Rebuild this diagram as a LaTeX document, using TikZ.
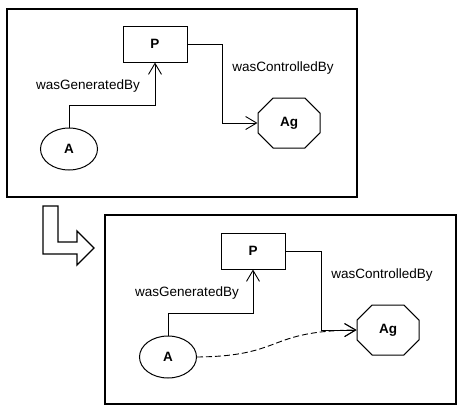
\documentclass[tikz,border=0pt]{standalone}
\usepackage{fontspec}
\setmainfont{Liberation Sans}
\usetikzlibrary{arrows.meta,shapes.geometric,shapes.misc}

\begin{document}
\begin{tikzpicture}[x=1pt,y=-1pt,
    every node/.style={font=\fontsize{13.5}{16}\selectfont},
    proc/.style={draw,line width=1pt,minimum width=64pt,minimum height=36pt,
      font=\fontsize{13.5}{16}\selectfont\bfseries},
    artif/.style={draw,ellipse,line width=1pt,minimum width=57pt,minimum height=42pt,
      font=\fontsize{13.5}{16}\selectfont\bfseries},
    agent/.style={draw,chamfered rectangle,chamfered rectangle sep=14pt,inner sep=0pt,
      line width=1pt,minimum width=62pt,minimum height=50pt,
      font=\fontsize{13.5}{16}\selectfont\bfseries},
    rel/.style={line width=0.9pt,-{Straight Barb[length=11pt,width=13pt]}},
    frame/.style={line width=1.8pt}]
    \useasboundingbox (0,0) rectangle (469,416);

    % before
    \draw [frame] (7,9) rectangle (357,197);
    \node [proc] (p1) at (155,44) {P};
    \node [artif] (a1) at (69,149) {A};
    \node [agent] (ag1) at (289,123) {Ag};
    \draw [rel] (a1.north) -- ++(0,-22) -| (p1.south);
    \draw [rel] (p1.east) -- ++(35,0) |- (ag1.west);
    \node (gen1) at (88,86) {wasGeneratedBy};
    \node (ctl1) at (283,68) {wasControlledBy};

    % big arrow between the two
    \draw [line width=1.3pt] (43,206) -- (58,206) -- (58,242) -- (77,242) -- (77,231)
      -- (94,248) -- (77,265) -- (77,254) -- (43,254) -- cycle;

    % after
    \draw [frame] (105,215) rectangle (456,404);
    \node [proc] (p2) at (253,251) {P};
    \node [artif] (a2) at (168,357) {A};
    \node [agent] (ag2) at (388,330) {Ag};
    \draw [rel] (a2.north) -- ++(0,-22) -| (p2.south);
    \draw [rel] (p2.east) -- ++(36,0) |- (ag2.west);
    \draw [rel,dash pattern=on 6pt off 3pt] (a2.east) .. controls (285,356) and (265,331) .. (ag2.west);
    \node (gen2) at (187,293) {wasGeneratedBy};
    \node (ctl2) at (382,275) {wasControlledBy};
  \end{tikzpicture}
\end{document}
